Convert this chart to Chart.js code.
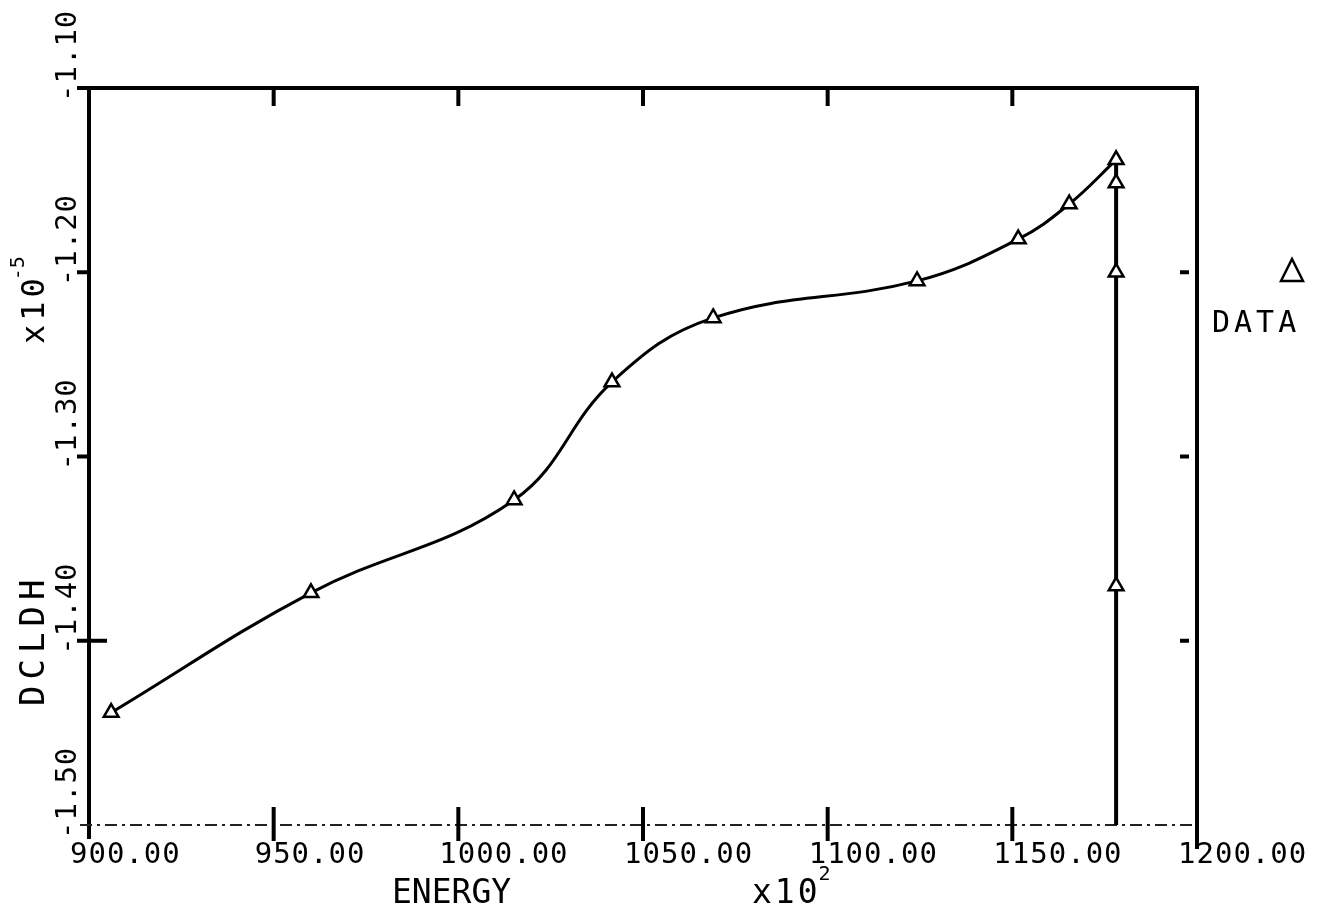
<!DOCTYPE html>
<html>
<head>
<meta charset="utf-8">
<script src="https://cdn.jsdelivr.net/npm/chart.js@4.4.1/dist/chart.umd.min.js"></script>
<style>
  html, body { margin: 0; padding: 0; background: #fff; }
  #wrap { width: 1320px; height: 911px; }
</style>
</head>
<body>
<div id="wrap"><canvas id="plot" width="1320" height="911"></canvas></div>
<script>
// ENERGY (x10^2) vs DCLDH (x10^-5)
const energy = [906.0, 960.1, 1015.1, 1041.6, 1069.0, 1124.2, 1151.6, 1165.4, 1178.1];
const dcldh = [-1.439, -1.374, -1.3236, -1.2596, -1.2248, -1.2047, -1.182, -1.163, -1.139];

// vertical drop at the last energy
const dropEnergy = [1178.1, 1178.1, 1178.1, 1178.1, 1178.1];
const dropDcldh = [-1.139, -1.1516, -1.200, -1.3703, -1.50];
const dropMarkers = [0, 8.5, 8.5, 8.5, 0];

const xTicks = [900, 950, 1000, 1050, 1100, 1150, 1200];
const yTicks = [-1.10, -1.20, -1.30, -1.40, -1.50];

const FONT = '"DejaVu Sans Mono", monospace';

// axes frame, ticks and all the texts
const frame = {
  id: 'frame',
  beforeDatasetsDraw(chart) {
    const { ctx, chartArea: a, scales: { x, y } } = chart;
    ctx.save();
    ctx.strokeStyle = '#000';
    ctx.fillStyle = '#000';

    ctx.lineWidth = 4;
    ctx.beginPath();
    ctx.moveTo(77, a.top); ctx.lineTo(a.right + 2, a.top);
    ctx.moveTo(a.left, a.top); ctx.lineTo(a.left, a.bottom + 14);
    ctx.moveTo(a.right, a.top); ctx.lineTo(a.right, a.bottom + 24);
    ctx.stroke();

    // bottom line is dash-dotted
    ctx.lineWidth = 2;
    ctx.strokeStyle = '#222';
    ctx.setLineDash([12, 5, 3, 5]);
    ctx.beginPath();
    ctx.moveTo(80, a.bottom); ctx.lineTo(a.right, a.bottom);
    ctx.stroke();
    ctx.setLineDash([]);
    ctx.strokeStyle = '#000';

    ctx.lineWidth = 4;
    xTicks.slice(1, -1).forEach(v => {
      const px = x.getPixelForValue(v);
      ctx.beginPath();
      ctx.moveTo(px, a.top); ctx.lineTo(px, a.top + 18);
      ctx.moveTo(px, a.bottom - 18); ctx.lineTo(px, a.bottom + 16);
      ctx.stroke();
    });
    yTicks.slice(1, -1).forEach((v, i) => {
      const py = y.getPixelForValue(v);
      ctx.beginPath();
      ctx.moveTo(a.left - 12, py); ctx.lineTo(a.left + (i === 2 ? 18 : 0), py);
      ctx.moveTo(a.right - 17, py); ctx.lineTo(a.right - 8, py);
      ctx.stroke();
    });

    // x tick labels
    ctx.font = '29px ' + FONT;
    ctx.letterSpacing = '1px';
    ctx.textAlign = 'left';
    ctx.textBaseline = 'alphabetic';
    xTicks.forEach(v => {
      ctx.fillText(v.toFixed(2), x.getPixelForValue(v) - 19, a.bottom + 38);
    });

    // y tick labels, rotated
    yTicks.forEach(v => {
      const py = y.getPixelForValue(v);
      ctx.save();
      ctx.translate(76, py + 14);
      ctx.rotate(-Math.PI / 2);
      ctx.fillText(v.toFixed(2), 0, 0);
      ctx.restore();
    });

    // axis titles
    ctx.font = '33px ' + FONT;
    ctx.letterSpacing = '0px';
    ctx.fillText('ENERGY', 392, 903);
    ctx.letterSpacing = '3px';
    ctx.fillText('x10', 752, 903);
    let w = ctx.measureText('x10').width;
    ctx.font = '20px ' + FONT;
    ctx.letterSpacing = '0px';
    ctx.fillText('2', 752 + w - 2, 880);

    ctx.save();
    ctx.translate(44, 706);
    ctx.rotate(-Math.PI / 2);
    ctx.font = '34px ' + FONT;
    ctx.letterSpacing = '6px';
    ctx.fillText('DCLDH', 0, 0);
    ctx.restore();

    ctx.save();
    ctx.translate(44, 344);
    ctx.rotate(-Math.PI / 2);
    ctx.font = '32px ' + FONT;
    ctx.letterSpacing = '4px';
    ctx.fillText('x10', 0, 0);
    w = ctx.measureText('x10').width;
    ctx.font = '20px ' + FONT;
    ctx.letterSpacing = '0px';
    ctx.fillText('-5', w - 6, -20);
    ctx.restore();

    // legend
    ctx.lineWidth = 2.5;
    ctx.beginPath();
    ctx.moveTo(1292, 259); ctx.lineTo(1303, 281); ctx.lineTo(1281, 281); ctx.closePath();
    ctx.stroke();
    ctx.font = '30px ' + FONT;
    ctx.letterSpacing = '4px';
    ctx.fillText('DATA', 1212, 332);
    ctx.restore();
  }
};

new Chart(document.getElementById('plot'), {
  type: 'scatter',
  data: {
    datasets: [
      {
        label: 'DATA',
        data: energy.map((e, i) => ({ x: e, y: dcldh[i] })),
        showLine: true,
        tension: 0.4,
        borderColor: '#000',
        borderWidth: 3,
        pointStyle: 'triangle',
        pointRadius: 8.5,
        pointBorderWidth: 2.5,
        pointBorderColor: '#000',
        pointBackgroundColor: '#fff'
      },
      {
        label: 'drop',
        data: dropEnergy.map((e, i) => ({ x: e, y: dropDcldh[i] })),
        showLine: true,
        tension: 0,
        borderColor: '#000',
        borderWidth: 4,
        pointStyle: 'triangle',
        pointRadius: dropMarkers,
        pointBorderWidth: 2.5,
        pointBorderColor: '#000',
        pointBackgroundColor: '#fff'
      }
    ]
  },
  options: {
    responsive: false,
    animation: false,
    devicePixelRatio: 1,
    layout: { padding: { left: 89, right: 123, top: 88, bottom: 86 } },
    plugins: { legend: { display: false }, tooltip: { enabled: false } },
    scales: {
      x: { type: 'linear', min: 900, max: 1200, display: false },
      y: { type: 'linear', min: -1.50, max: -1.10, display: false }
    }
  },
  plugins: [frame]
});
</script>
</body>
</html>
